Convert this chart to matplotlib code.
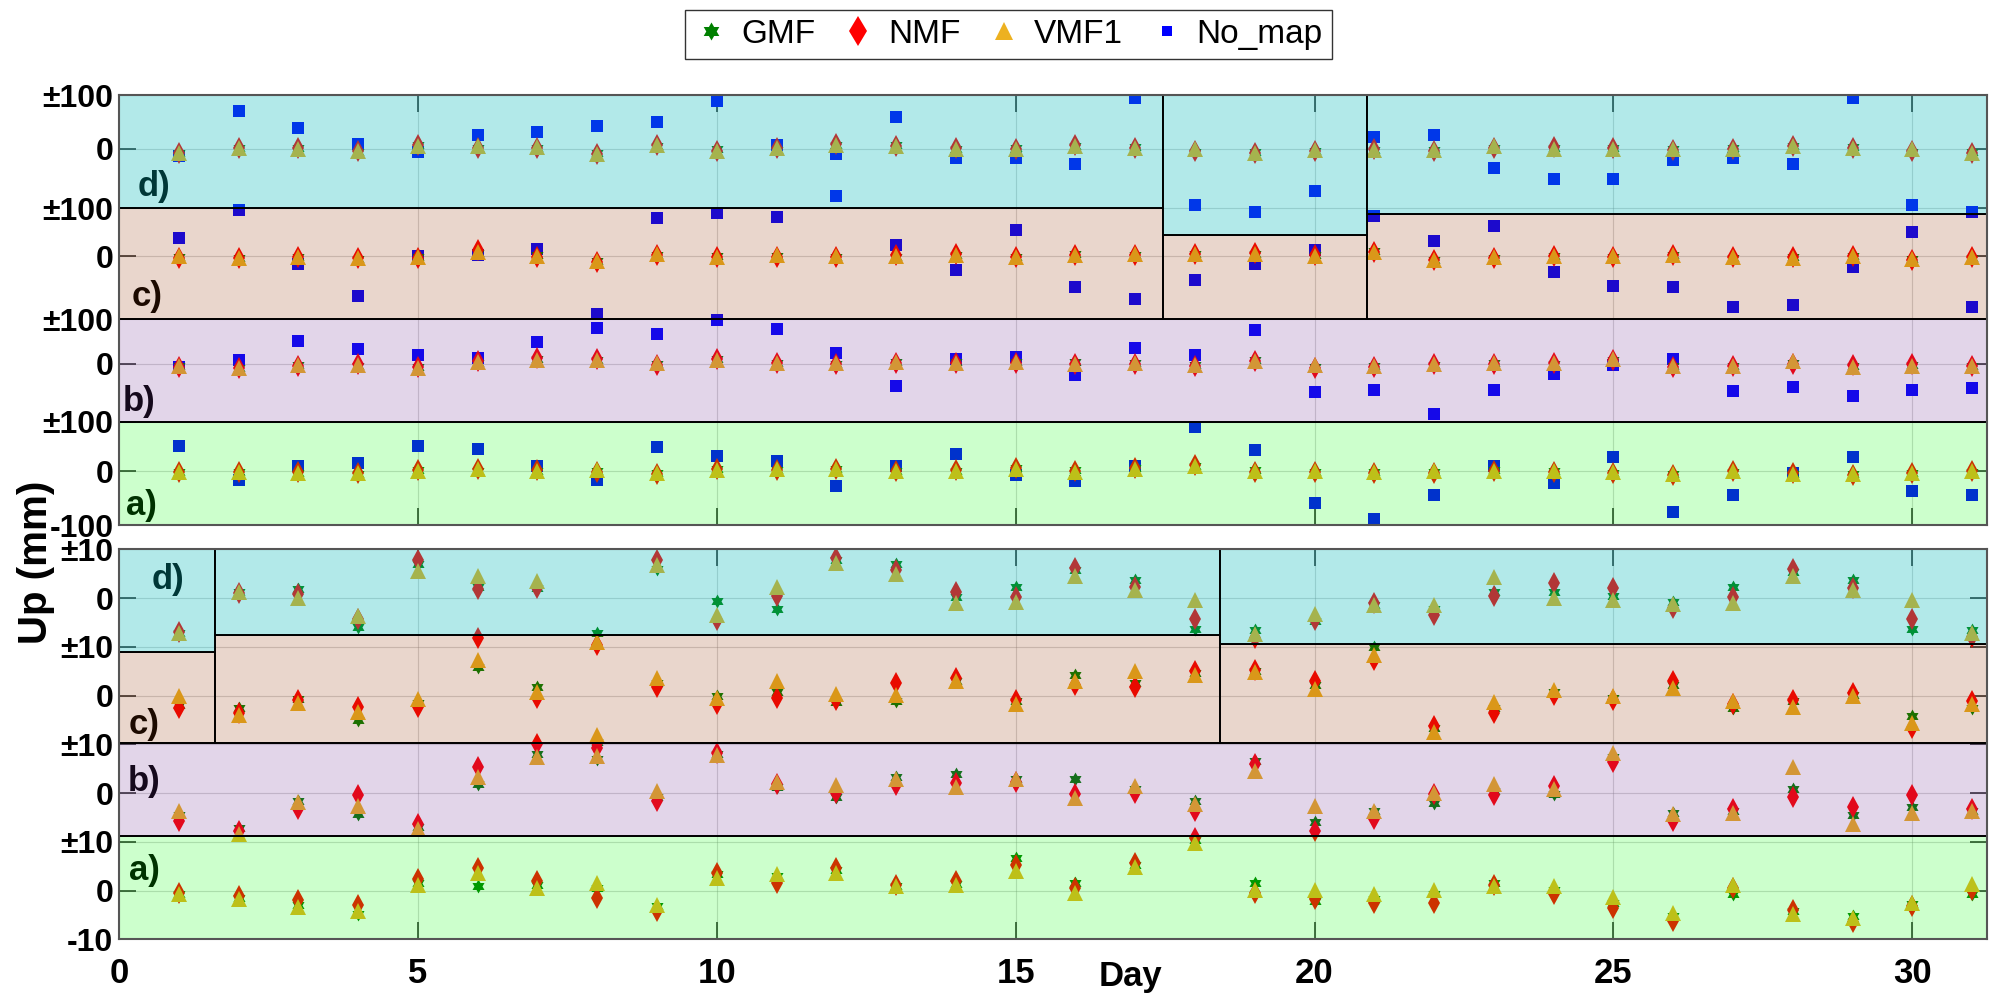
import numpy as np
import matplotlib.pyplot as plt
from matplotlib.lines import Line2D
from matplotlib.patches import Rectangle
from matplotlib.path import Path

plt.rcParams['font.family'] = ['Liberation Sans', 'DejaVu Sans']

days = np.arange(1, 32)

# Up residuals (mm) per station a..d for each mapping function
gmf_a = [-0.8, -1.5, -2.9, -4.9, 1.6, 0.9, 1.2, 0.5, -3.2, 3.3, 2.9, 4.3, 0.9, 1.4, 6.7, 1.6,
         5.3, 10.4, 1.6, -2.2, -1.8, -0.8, 1.6, 0.2, -2.5, -5.3, -0.8, -4.2, -5.3, -2.7, -0.8]
nmf_a = [-0.5, -1.2, -2.0, -2.9, 2.3, 4.6, 1.9, -1.5, -4.2, 3.6, 1.6, 4.6, 1.2, 1.9, 5.3, 0.5,
         5.7, 10.8, -0.5, -1.8, -2.5, -2.5, 1.2, -0.8, -3.5, -6.3, 0.5, -3.9, -6.4, -3.2, 0.2]
vmf_a = [-0.7, -1.8, -3.4, -4.1, 1.2, 3.6, 0.5, 1.6, -2.9, 2.6, 3.3, 3.6, 0.9, 1.1, 4.0, -0.5,
         4.8, 9.8, 0.2, 0.2, -0.7, 0.2, 0.9, 0.9, -1.4, -4.6, 1.2, -4.9, -5.7, -2.5, 1.4]

gmf_b = [-4.5, -7.2, -1.6, -4.3, -6.9, 1.8, 8.0, 7.0, -0.9, 8.0, 1.2, -0.9, 3.2, 3.9, 2.9, 2.9,
         0.8, -1.6, 6.6, -6.0, -3.6, -2.0, 0.5, -0.2, 7.3, -4.0, -3.6, 0.8, -4.6, -2.9, -3.6]
nmf_b = [-5.7, -7.7, -3.3, -0.5, -6.3, 5.3, 10.0, 9.2, -1.6, 8.3, 1.8, 0.1, 1.6, 2.0, 2.2, -0.2,
         0.1, -3.6, 5.9, -7.7, -5.3, -0.2, -0.4, 1.5, 6.3, -5.7, -3.3, -0.9, -2.9, -0.5, -3.3]
vmf_b = [-3.6, -8.4, -1.9, -2.6, -7.3, 3.2, 7.3, 7.6, 0.5, 7.8, 2.2, 1.6, 2.9, 1.2, 2.9, -1.1,
         1.4, -2.3, 4.6, -2.6, -3.6, 0.1, 1.8, 0.8, 8.3, -4.3, -4.0, 5.3, -6.3, -4.0, -3.6]

gmf_c = [-1.9, -2.6, -0.7, -5.0, -1.6, 5.9, 1.8, -9.5, 2.5, -0.2, 0.8, -1.4, -1.2, 2.9, -1.2, 4.2,
         2.5, 4.6, 5.1, 2.2, 10.0, -6.7, -2.6, 0.8, -0.5, 2.2, -2.6, -1.2, 0.1, -4.3, -2.6]
nmf_c = [-2.6, -3.6, -0.9, -2.3, -2.3, 11.7, -0.5, -9.8, 1.8, -1.8, -0.5, -0.9, 2.5, 3.5, -0.9, 2.2,
         1.8, 5.1, 5.3, 2.9, 7.3, -6.3, -3.6, 0.1, -0.9, 2.9, -1.8, -0.9, 0.5, -6.7, -1.2]
vmf_c = [-0.2, -4.0, -1.6, -3.3, -0.7, 7.3, 0.8, -8.1, 3.5, -0.5, 2.9, 0.3, 0.1, 2.9, -1.8, 2.9,
         5.1, 4.2, 4.9, 1.4, 8.3, -7.4, -1.4, 1.2, -0.2, 1.5, -1.2, -2.3, -0.2, -5.7, -1.8]

gmf_d = [-7.2, 1.3, 1.9, -5.9, 7.0, 2.3, 2.0, -7.1, 6.0, -0.7, -2.3, 7.7, 7.0, 0.2, 2.3, 5.7,
         3.6, -6.3, -6.6, -4.8, -1.4, -2.2, 1.2, 1.2, 0.5, -0.8, 2.3, 5.3, 3.6, -6.3, -6.6]
nmf_d = [-7.0, 1.0, 0.9, -4.4, 7.7, 1.8, 2.0, -9.7, 7.7, -4.6, 0.5, 8.2, 5.7, 1.2, 0.2, 6.1,
         2.3, -4.4, -8.3, -4.6, -1.0, -3.5, 0.5, 3.1, 2.0, -2.0, 0.2, 6.0, 2.0, -4.4, -8.0]
vmf_d = [-7.1, 1.3, -0.1, -3.7, 5.5, 4.5, 3.4, -9.0, 6.8, -3.5, 2.3, 7.2, 5.0, -1.0, -0.8, 4.6,
         1.6, -0.5, -7.3, -3.2, -1.5, -1.5, 4.3, 0.0, -0.5, -1.2, -1.0, 4.5, 1.6, -0.5, -7.1]

# no mapping function
nomap_a = [46.5, -15.5, 9.3, 15.5, 47.7, 42.0, 9.3, -16.7, 44.6, 27.9, 18.6, -27.9, 9.3, 32.9, -6.2, -18.6,
           9.3, 82.5, 40.3, -59.0, -88.7, -43.4, 9.3, -21.7, 26.0, -75.6, -43.4, -4.0, 26.0, -37.2, -43.4]
nomap_b = [-6.2, 6.2, 42.2, 27.9, 15.5, 10.5, 40.3, 66.0, 54.6, 80.6, 65.0, 20.5, -41.5, 8.0, 12.4, -20.5,
           29.0, 16.7, 62.0, -53.0, -48.4, -93.0, -49.6, -18.6, -2.0, 9.3, -51.0, -43.4, -60.0, -48.4, -45.0]
nomap_c = [34.7, 85.6, -14.9, -73.8, 0.6, 1.9, 14.3, -107.0, 72.0, 80.6, 73.0, 112.0, 21.7, -24.8, 48.4, -57.0,
           -78.7, -44.6, -13.6, 11.0, 74.4, 27.9, 57.0, -29.0, -55.0, -57.7, -94.0, -91.0, -20.0, 45.0, -94.0]
nomap_d = [-13.6, 70.0, 39.0, 8.0, -6.2, 26.0, 32.0, 42.0, 50.0, 88.0, 6.2, -9.3, 60.0, -16.7, -17.4, -27.9,
           94.0, -105.0, -118.0, -79.0, 21.7, 24.8, -36.0, -55.8, -55.8, -21.7, -17.4, -27.9, 95.0, -104.0, -118.0]

gmf = [gmf_a, gmf_b, gmf_c, gmf_d]
nmf = [nmf_a, nmf_b, nmf_c, nmf_d]
vmf = [vmf_a, vmf_b, vmf_c, vmf_d]
nomap = [nomap_a, nomap_b, nomap_c, nomap_d]
station_labels = ['a)', 'b)', 'c)', 'd)']

C_GMF, C_NMF, C_VMF, C_NOMAP = '#008000', '#FF0000', '#EDB120', '#0000FF'
hexagram = Path.unit_regular_star(6, innerCircle=0.577)

# translucent station bands (drawn over the markers)
GREEN = (0.0, 1.0, 0.0, 0.2)
LAV = (0.43, 0.18, 0.57, 0.2)
TAN = (0.57, 0.2, 0.0, 0.2)
CYAN = (0.0, 0.725, 0.725, 0.3)
XMAX = 31.25

top_bands = [(0, XMAX, -100, 92, GREEN), (0, XMAX, 92, 283, LAV),
             (0, 17.46, 283, 489, TAN), (17.46, 20.88, 283, 440, TAN), (20.88, XMAX, 283, 478, TAN),
             (0, 17.46, 489, 700, CYAN), (17.46, 20.88, 440, 700, CYAN), (20.88, XMAX, 478, 700, CYAN)]
bot_bands = [(0, XMAX, -10, 11.2, GREEN), (0, XMAX, 11.2, 30.2, LAV),
             (0, 1.6, 30.2, 49.0, TAN), (1.6, 18.42, 30.2, 52.4, TAN), (18.42, XMAX, 30.2, 50.6, TAN),
             (0, 1.6, 49.0, 70, CYAN), (1.6, 18.42, 52.4, 70, CYAN), (18.42, XMAX, 50.6, 70, CYAN)]

FS = 23


def style_axis(ax, yticks, ylabels, show_x):
    ax.set_xlim(0, XMAX)
    ax.set_ylim(yticks[0], yticks[-1])
    ax.set_xticks(np.arange(0, 31, 5))
    ax.set_yticks(yticks)
    ax.set_yticklabels(ylabels, fontweight='bold', fontsize=FS)
    if show_x:
        ax.set_xticklabels([str(v) for v in range(0, 31, 5)], fontweight='bold', fontsize=25)
    else:
        ax.set_xticklabels([])
    ax.tick_params(direction='in', length=12, width=1.2, top=True, right=True,
                   color='#303030', pad=4)
    ax.tick_params(axis='x', pad=13)
    ax.grid(True, color='#8a8a8a', lw=0.8, alpha=0.35)
    ax.set_axisbelow(True)
    for sp in ax.spines.values():
        sp.set_color('#555555')
        sp.set_linewidth(1.5)
        sp.set_zorder(6)


def draw(ax, offsets, bands, label_pos, with_nomap):
    for k, off in enumerate(offsets):
        if with_nomap:
            ax.plot(days, np.array(nomap[k]) + off, 's', color=C_NOMAP, ms=8, mew=0, zorder=2)
        ax.plot(days, np.array(gmf[k]) + off, marker=hexagram, ls='none', color=C_GMF,
                ms=10, mew=0, zorder=2.1)
        ax.plot(days, np.array(nmf[k]) + off, 'd', color=C_NMF, ms=11, mew=0, zorder=2.2)
        ax.plot(days, np.array(vmf[k]) + off, '^', color=C_VMF, ms=11, mew=0, zorder=2.3)
        lx, ly = label_pos[k]
        ax.text(lx, ly, station_labels[k], ha='center', va='center', fontsize=25,
                fontweight='bold', color='black', zorder=3)
    for x0, x1, y0, y1, face in bands:
        ax.add_patch(Rectangle((x0, y0), x1 - x0, y1 - y0, facecolor=face,
                               edgecolor='black', lw=1.3, zorder=5))


fig = plt.figure(figsize=(19.97, 9.97), dpi=100)
ax_top = fig.add_axes([0.0596, 0.4734, 0.9354, 0.4313])
ax_bot = fig.add_axes([0.0596, 0.0579, 0.9354, 0.3912])

draw(ax_top, [0, 200, 400, 600], top_bands,
     [(0.37, -63), (0.33, 129), (0.47, 325), (0.58, 529)], True)
draw(ax_bot, [0, 20, 40, 60], bot_bands,
     [(0.42, 4.2), (0.42, 22.3), (0.42, 34.0), (0.82, 63.7)], False)

style_axis(ax_top, [-100, 0, 92, 200, 283, 400, 489, 600, 700],
           ['-100', '0', '±100', '0', '±100', '0', '±100', '0', '±100'], False)
style_axis(ax_bot, [-10, 0, 10, 20, 30, 40, 50, 60, 70],
           ['-10', '0', '±10', '0', '±10', '0', '±10', '0', '±10'], True)

fig.text(0.566, 0.021, 'Day', ha='center', va='center', fontsize=25, fontweight='bold')
fig.text(0.018, 0.436, 'Up (mm)', ha='center', va='center', rotation=90,
         fontsize=29, fontweight='bold')

handles = [Line2D([], [], ls='none', marker=hexagram, color=C_GMF, ms=13, mew=0),
           Line2D([], [], ls='none', marker='d', color=C_NMF, ms=15, mew=0),
           Line2D([], [], ls='none', marker='^', color=C_VMF, ms=13, mew=0),
           Line2D([], [], ls='none', marker='s', color=C_NOMAP, ms=7.5, mew=0)]
leg = fig.legend(handles, ['GMF', 'NMF', 'VMF1', 'No_map'], loc='center',
                 bbox_to_anchor=(0.505, 0.9654), ncol=4, fontsize=24, frameon=True,
                 fancybox=False, edgecolor='black', handlelength=1.0, handletextpad=0.4,
                 columnspacing=0.8, borderpad=0.28)
leg.get_frame().set_linewidth(1.0)

fig.savefig('out.png', dpi=100)
